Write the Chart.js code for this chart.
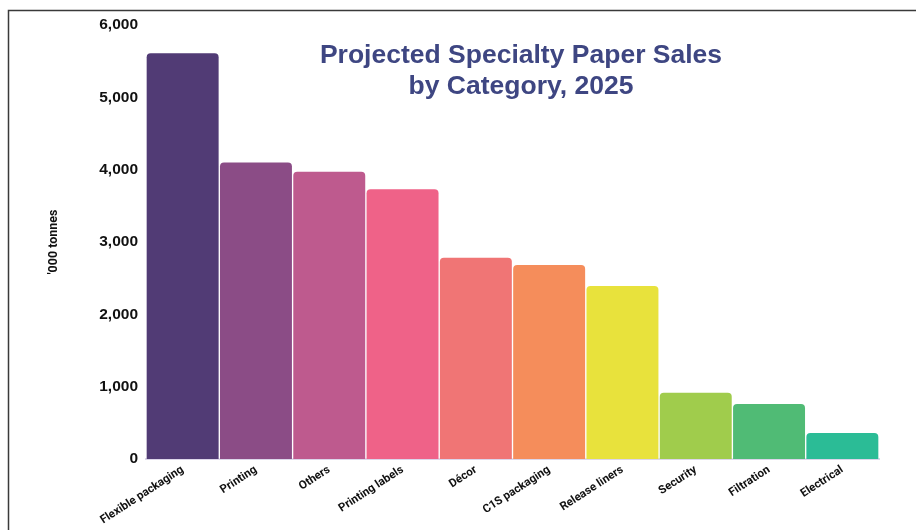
<!DOCTYPE html>
<html>
<head>
<meta charset="utf-8">
<script src="https://cdn.jsdelivr.net/npm/chart.js@4"></script>
<style>
    body { margin: 0; background: #fff; }
    #wrap { position: relative; width: 916px; height: 530px; }
</style>
</head>
<body>
<div id="wrap"><canvas id="paperChart" width="916" height="530"></canvas></div>
<script>
// Данные графика
const categories = ["Flexible packaging", "Printing", "Others", "Printing labels", "Décor",
    "C1S packaging", "Release liners", "Security", "Filtration", "Electrical"];
const salesValues = [5620, 4110, 3980, 3740, 2790, 2690, 2400, 925, 770, 370];
const yTicks = [0, 1000, 2000, 3000, 4000, 5000, 6000];
const titleLines = ["Projected Specialty Paper Sales", "by Category, 2025"];
const yAxisTitle = "'000 tonnes";

const barColors = ["#513b75", "#8b4c86", "#be5a8e", "#ef6288", "#f07575",
    "#f58d5b", "#e8e23c", "#a0cc4c", "#50bb75", "#2bbc96"];

const narrowFont = "Roboto, 'Liberation Sans', sans-serif";

// Рамка и заголовок поверх графика
const framePlugin = {
    id: "frame",
    afterDraw(chart) {
        const ctx = chart.ctx;
        ctx.save();
        ctx.strokeStyle = "#3a3a3a";
        ctx.lineWidth = 1.5;
        ctx.beginPath();
        ctx.moveTo(8.5, 530);
        ctx.lineTo(8.5, 10.5);
        ctx.lineTo(916, 10.5);
        ctx.stroke();

        ctx.fillStyle = "#3e4682";
        ctx.font = "bold 26.5px 'Liberation Sans', Arial, sans-serif";
        ctx.textAlign = "center";
        ctx.textBaseline = "alphabetic";
        ctx.fillText(titleLines[0], 521, 63);
        ctx.fillText(titleLines[1], 521, 94);
        ctx.restore();
    }
};

const ctx = document.getElementById("paperChart").getContext("2d");
new Chart(ctx, {
    type: "bar",
    data: {
        labels: categories,
        datasets: [{
            data: salesValues,
            backgroundColor: barColors,
            borderColor: "rgba(255,255,255,0.25)",
            borderWidth: 1,
            borderSkipped: "bottom",
            borderRadius: { topLeft: 5, topRight: 5 },
            barPercentage: 1,
            categoryPercentage: 1
        }]
    },
    options: {
        responsive: false,
        animation: false,
        layout: { padding: { top: 25, right: 37, bottom: 0, left: 0 } },
        plugins: {
            legend: { display: false },
            tooltip: { enabled: false }
        },
        scales: {
            x: {
                grid: { display: false, drawTicks: false },
                border: { display: true, color: "#dcd6ea", width: 2 },
                afterFit: scale => { scale.height = 71; },
                ticks: {
                    color: "#111",
                    minRotation: 33,
                    maxRotation: 33,
                    padding: 4,
                    autoSkip: false,
                    font: { family: narrowFont, size: 11.5, weight: "bold" }
                }
            },
            y: {
                min: 0,
                max: 6000,
                grid: { display: false, drawTicks: false },
                border: { display: false },
                afterFit: scale => { scale.width = 146; },
                afterBuildTicks: scale => { scale.ticks = yTicks.map(v => ({ value: v })); },
                ticks: {
                    color: "#111",
                    padding: 8,
                    font: { family: "'Liberation Sans', Arial, sans-serif", size: 15.5, weight: "bold" },
                    callback: value => value.toLocaleString("en-US")
                },
                title: {
                    display: true,
                    text: yAxisTitle,
                    color: "#111",
                    padding: { top: 46, bottom: 0 },
                    font: { family: narrowFont, size: 12.5, weight: "bold" }
                }
            }
        }
    },
    plugins: [framePlugin]
});
</script>
</body>
</html>
